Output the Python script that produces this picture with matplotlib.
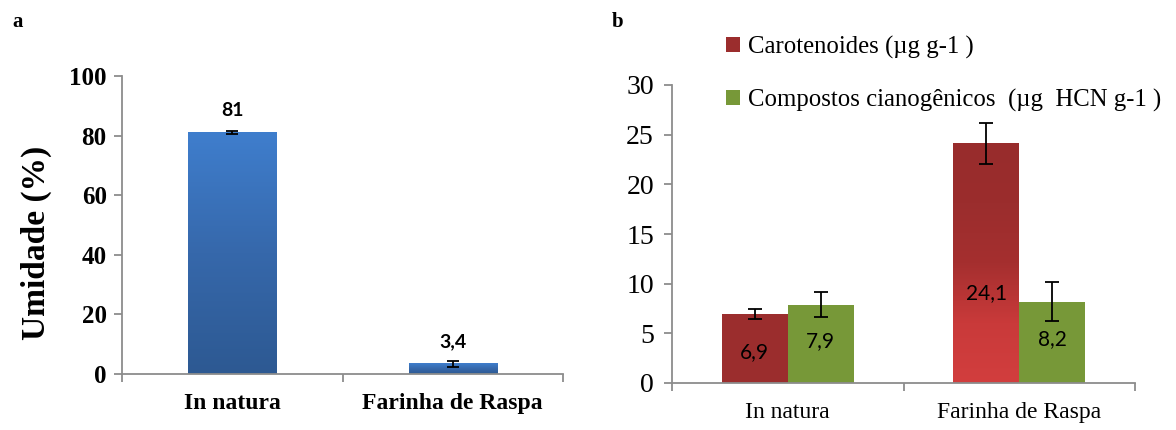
import numpy as np
import matplotlib.pyplot as plt
from matplotlib.colors import LinearSegmentedColormap
from matplotlib.patches import Patch

categories = ["In natura", "Farinha de Raspa"]

# painel a
umidade = [81, 3.4]
umidade_err = [0.5, 1.0]
umidade_labels = ["81", "3,4"]

# painel b
carotenoides = [6.9, 24.1]
carotenoides_err = [0.5, 2.1]
carot_labels = ["6,9", "24,1"]
cianogenicos = [7.9, 8.2]
cianogenicos_err = [1.3, 2.0]
ciano_labels = ["7,9", "8,2"]
legend_labels = ["Carotenoides (µg g-1 )", "Compostos cianogênicos  (µg  HCN g-1 )"]

SERIF = "Liberation Serif"
SANS = "Lato"
AXIS_GRAY = "#8c8c8c"


def gradient_fill(ax, patch, colors):
    x, y = patch.get_x(), patch.get_y()
    w, h = patch.get_width(), patch.get_height()
    cmap = LinearSegmentedColormap.from_list("g", colors)
    grad = np.linspace(0, 1, 256).reshape(-1, 1)
    ax.imshow(grad, extent=[x, x + w, y, y + h], origin="lower", aspect="auto",
              cmap=cmap, zorder=patch.get_zorder() + 0.1)


def style_axes(ax, bold):
    for s in ["top", "right"]:
        ax.spines[s].set_visible(False)
    for s in ["left", "bottom"]:
        ax.spines[s].set_color(AXIS_GRAY)
        ax.spines[s].set_linewidth(1.3)
    ax.set_xlim(-0.5, 1.5)
    ax.set_xticks([0, 1])
    ax.set_xticks([-0.5, 0.5, 1.5], minor=True)
    ax.tick_params(axis="x", which="major", length=0, pad=14)
    ax.tick_params(axis="x", which="minor", length=6, width=1.3, color=AXIS_GRAY, direction="out")
    ax.tick_params(axis="y", length=6, width=1.3, color=AXIS_GRAY, direction="out")
    weight = "bold" if bold else "normal"
    for lab in ax.get_xticklabels() + ax.get_yticklabels():
        lab.set_fontfamily(SERIF)
        lab.set_fontweight(weight)


fig = plt.figure(figsize=(11.76, 4.3), dpi=100)

# ---- painel a ----
ax1 = fig.add_axes([122 / 1176, 1 - 374 / 430, 441 / 1176, 298 / 430])
x = np.arange(len(categories))
bars = ax1.bar(x, umidade, width=0.4, color="#3a74bd", zorder=2)
ax1.errorbar(x, umidade, yerr=umidade_err, fmt="none", ecolor="black",
             elinewidth=1.3, capsize=4, capthick=1.3, zorder=4)
for b in bars:
    gradient_fill(ax1, b, ["#2d5992", "#3668ab", "#3f7ecd"])
for xi, v, lab in zip(x, umidade, umidade_labels):
    ax1.text(xi, v + 4.5, lab, ha="center", va="bottom", fontfamily=SANS,
             fontweight="bold", fontsize=14)
ax1.set_ylim(0, 100)
ax1.set_yticks(np.arange(0, 101, 20))
ax1.set_xticklabels(categories, fontsize=17)
ax1.tick_params(axis="y", labelsize=18, pad=5)
style_axes(ax1, bold=True)
ax1.set_xlim(-0.5, 1.5)
ax1.set_ylabel("Umidade (%)", fontfamily=SERIF, fontweight="bold", fontsize=24)
ax1.yaxis.set_label_coords(-0.158, 0.44)

# ---- painel b ----
ax2 = fig.add_axes([672 / 1176, 1 - 383 / 430, 463 / 1176, 298 / 430])
w = 0.285
b_red = ax2.bar(x - w / 2, carotenoides, width=w, color="#9b2d2d", zorder=2)
b_grn = ax2.bar(x + w / 2, cianogenicos, width=w, color="#779838", zorder=2)
gradient_fill(ax2, b_red[1], ["#d23e3e", "#c93a3a", "#a52f2f", "#9b2d2d", "#982c2c"])
ax2.errorbar(x - w / 2, carotenoides, yerr=carotenoides_err, fmt="none", ecolor="black",
             elinewidth=1.3, capsize=5, capthick=1.3, zorder=4)
ax2.errorbar(x + w / 2, cianogenicos, yerr=cianogenicos_err, fmt="none", ecolor="black",
             elinewidth=1.3, capsize=5, capthick=1.3, zorder=4)
carot_label_y = [carotenoides[0] / 2 - 0.35, 9.1]
for xi, yy, lab in zip(x - w / 2, carot_label_y, carot_labels):
    ax2.text(xi, yy, lab, ha="center", va="center", fontfamily=SANS, fontsize=15, zorder=5)
for xi, v, lab in zip(x + w / 2, cianogenicos, ciano_labels):
    ax2.text(xi, v / 2 + 0.3, lab, ha="center", va="center", fontfamily=SANS, fontsize=15, zorder=5)
ax2.set_ylim(0, 30)
ax2.set_yticks(np.arange(0, 31, 5))
ax2.set_xticklabels(categories, fontsize=17)
ax2.tick_params(axis="y", labelsize=20, pad=7)
style_axes(ax2, bold=False)
ax2.set_xlim(-0.5, 1.5)

handles = [Patch(facecolor="#9b2d2d"), Patch(facecolor="#779838")]
fig.legend(handles, legend_labels, loc="upper left", bbox_to_anchor=(726 / 1176, 1 - 36 / 430),
           frameon=False, prop={"family": SERIF, "size": 17.8}, handlelength=0.55,
           handleheight=0.55, handletextpad=0.35, labelspacing=1.2, borderpad=0, borderaxespad=0)

fig.text(12 / 1176, 1 - 22 / 430, "a", fontfamily=SERIF, fontweight="bold", fontsize=15,
         ha="left", va="center")
fig.text(612 / 1176, 1 - 22 / 430, "b", fontfamily=SERIF, fontweight="bold", fontsize=15,
         ha="left", va="center")

fig.savefig("out.png", dpi=100)
